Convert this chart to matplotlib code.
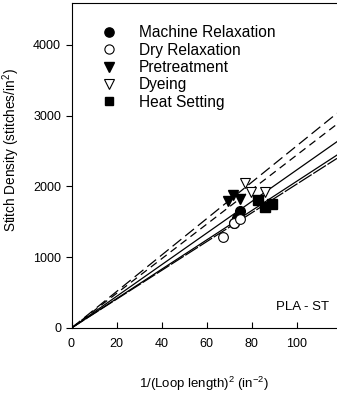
import matplotlib
matplotlib.use('Agg')
import matplotlib.pyplot as plt

plt.rcParams['font.family'] = ['Liberation Sans', 'DejaVu Sans']
plt.rcParams['mathtext.default'] = 'regular'

# data
mr_x = [74.7, 72.1, 73.5]
mr_y = [1653, 1487, 1560]
dr_x = [67.4, 72.1, 74.7]
dr_y = [1281, 1487, 1535]
pt_x = [69.6, 71.9, 74.7]
pt_y = [1794, 1879, 1822]
dy_x = [77.3, 79.8, 86.0]
dy_y = [2052, 1921, 1916]
hs_x = [82.8, 86.0, 89.0]
hs_y = [1808, 1713, 1751]

# fitted slopes (through origin)
slope_mr = 22.3
slope_dr = 20.3
slope_pt = 25.7
slope_dy = 24.4
slope_hs = 20.7

xmax = 118.0
ymax = 4590

fig = plt.figure(figsize=(3.37, 3.96), dpi=100)
ax = fig.add_axes([71.5 / 337, 68 / 396, (337 - 71.5) / 337, 325 / 396])

lx = [0, xmax]
ax.plot(lx, [0, slope_pt * xmax], color='k', lw=0.9, dashes=(9, 4))
ax.plot(lx, [0, slope_dy * xmax], color='k', lw=0.9, dashes=(6, 4))
ax.plot(lx, [0, slope_mr * xmax], color='k', lw=0.9)
ax.plot(lx, [0, slope_hs * xmax], color='k', lw=0.9)
ax.plot(lx, [0, slope_dr * xmax], color='k', lw=0.9, dashes=(12, 1.5))

ms = 7
ax.plot(mr_x, mr_y, 'o', color='k', ms=ms, ls='none', label='Machine Relaxation')
ax.plot(dr_x, dr_y, 'o', mfc='white', mec='k', mew=0.8, ms=ms, ls='none', label='Dry Relaxation')
ax.plot(pt_x, pt_y, 'v', color='k', ms=ms, ls='none', label='Pretreatment')
ax.plot(dy_x, dy_y, 'v', mfc='white', mec='k', mew=0.8, ms=ms, ls='none', label='Dyeing')
ax.plot(hs_x, hs_y, 's', color='k', ms=ms - 0.5, ls='none', label='Heat Setting')

ax.legend(loc='upper left', bbox_to_anchor=(0.09, 0.95), frameon=False,
          fontsize=11.2, handlelength=1.0, handletextpad=1.4,
          labelspacing=0.15, borderaxespad=0, markerscale=0.95)

ax.text(0.97, 0.065, 'PLA - ST', transform=ax.transAxes, ha='right', va='center', fontsize=9.5)

ax.set_xlim(0, xmax)
ax.set_ylim(0, ymax)
ax.set_xticks([0, 20, 40, 60, 80, 100])
ax.set_yticks([0, 1000, 2000, 3000, 4000])
ax.tick_params(axis='x', direction='in', labelsize=9, pad=7, length=4)
ax.tick_params(axis='y', direction='out', labelsize=9, length=4)
ax.spines['right'].set_visible(False)

ax.set_xlabel('1/(Loop length)$^2$ (in$^{-2}$)', fontsize=9.5, labelpad=18)
ax.set_ylabel('Stitch Density (stitches/in$^2$)', fontsize=9.8)
ax.yaxis.set_label_coords(-0.185, 0.548)

fig.savefig('out.png', dpi=100)
